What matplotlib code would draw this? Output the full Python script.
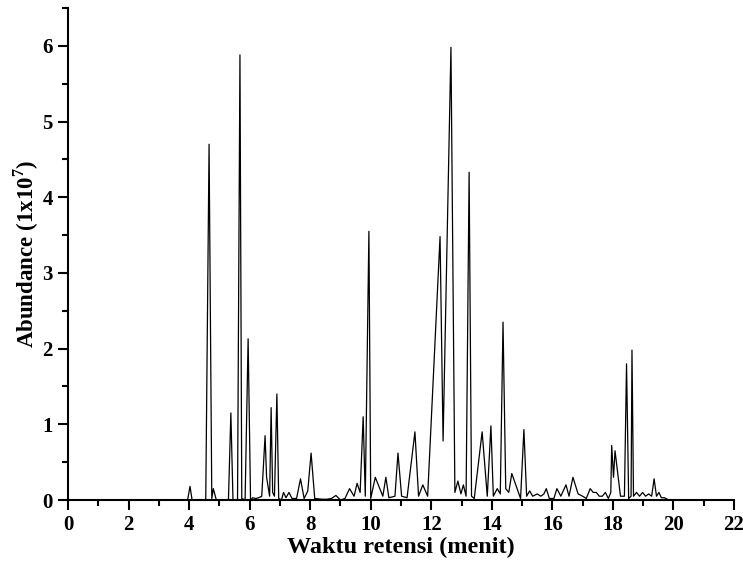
import matplotlib
matplotlib.use("Agg")
import matplotlib.pyplot as plt
from matplotlib.ticker import MultipleLocator

# Retention time (min) and abundance (x1e7) of the chromatogram trace
time_min = [
    0.0, 3.95, 4.03, 4.1, 4.55, 4.66, 4.75, 4.8, 4.9, 5.3, 5.38, 5.45, 5.6,
    5.68, 5.74, 5.85, 5.95, 6.03, 6.1, 6.2, 6.3, 6.4, 6.51, 6.56, 6.62, 6.66,
    6.71, 6.76, 6.82, 6.9, 6.96, 7.05, 7.12, 7.2, 7.3, 7.4, 7.55, 7.68, 7.8,
    7.92, 8.03, 8.15, 8.4, 8.55, 8.7, 8.85, 9.0, 9.15, 9.3, 9.45, 9.55, 9.65,
    9.75, 9.82, 9.94, 10.0, 10.15, 10.3, 10.4, 10.5, 10.6, 10.8, 10.9, 11.02,
    11.2, 11.46, 11.58, 11.72, 11.88, 12.29, 12.39, 12.65, 12.78, 12.88,
    12.98, 13.06, 13.15, 13.25, 13.33, 13.42, 13.68, 13.85, 13.97, 14.05,
    14.18, 14.28, 14.37, 14.46, 14.56, 14.66, 14.95, 15.06, 15.15, 15.25,
    15.35, 15.5, 15.62, 15.72, 15.8, 15.9, 16.05, 16.15, 16.28, 16.45, 16.55,
    16.68, 16.85, 17.0, 17.12, 17.25, 17.35, 17.45, 17.55, 17.65, 17.75,
    17.85, 17.93, 17.96, 18.02, 18.07, 18.25, 18.38, 18.45, 18.52, 18.6,
    18.63, 18.68, 18.78, 18.88, 18.98, 19.08, 19.18, 19.28, 19.36, 19.44,
    19.52, 19.6, 19.7, 19.85,
]
abundance = [
    0.0, 0.0, 0.18, 0.0, 0.0, 4.7, 0.02, 0.15, 0.0, 0.0, 1.15, 0.0, 0.0,
    5.88, 0.02, 0.0, 2.13, 0.0, 0.03, 0.02, 0.03, 0.05, 0.85, 0.3, 0.15, 0.05,
    1.22, 0.1, 0.05, 1.4, 0.02, 0.0, 0.1, 0.03, 0.1, 0.02, 0.02, 0.28, 0.02,
    0.12, 0.62, 0.02, 0.01, 0.01, 0.02, 0.06, 0.0, 0.02, 0.15, 0.05, 0.22,
    0.1, 1.1, 0.05, 3.55, 0.02, 0.3, 0.15, 0.05, 0.3, 0.03, 0.05, 0.62, 0.05,
    0.03, 0.9, 0.05, 0.2, 0.05, 3.48, 0.78, 5.98, 0.1, 0.25, 0.08, 0.2, 0.05,
    4.33, 0.05, 0.02, 0.9, 0.05, 0.98, 0.05, 0.15, 0.08, 2.35, 0.15, 0.1,
    0.35, 0.02, 0.93, 0.05, 0.12, 0.05, 0.08, 0.05, 0.08, 0.15, 0.02, 0.02,
    0.15, 0.05, 0.2, 0.05, 0.3, 0.08, 0.05, 0.02, 0.15, 0.1, 0.1, 0.05, 0.05,
    0.1, 0.02, 0.1, 0.72, 0.3, 0.65, 0.05, 0.05, 1.8, 0.02, 0.05, 1.98,
    0.05, 0.1, 0.05, 0.1, 0.05, 0.08, 0.05, 0.28, 0.05, 0.1, 0.03, 0.03, 0.0,
]

plt.rcParams["font.family"] = "Liberation Serif"
plt.rcParams["font.weight"] = "bold"
plt.rcParams["mathtext.fontset"] = "custom"
plt.rcParams["mathtext.bf"] = "Liberation Serif:bold"

fig = plt.figure(figsize=(7.43, 5.62), dpi=100)
ax = fig.add_axes([68 / 743, 62 / 562, 666 / 743, 492 / 562])

ax.plot(time_min, abundance, color="black", linewidth=0.9)

ax.set_xlim(0, 22)
ax.set_ylim(0, 6.5)
ax.xaxis.set_major_locator(MultipleLocator(2))
ax.xaxis.set_minor_locator(MultipleLocator(1))
ax.yaxis.set_major_locator(MultipleLocator(1))
ax.yaxis.set_minor_locator(MultipleLocator(0.5))

ax.spines[["top", "right"]].set_visible(False)
for s in ("left", "bottom"):
    ax.spines[s].set_linewidth(1.5)
ax.tick_params(which="major", direction="out", length=7, width=1.5, labelsize=15, pad=4)
ax.tick_params(which="minor", direction="out", length=4, width=1.5)
for lbl in ax.get_xticklabels() + ax.get_yticklabels():
    lbl.set_fontweight("bold")

ax.set_xlabel("Waktu retensi (menit)", fontsize=17.5, fontweight="bold", labelpad=1)
ax.set_ylabel(r"Abundance (1x10$^\mathbf{7}$)", fontsize=16.5, fontweight="bold", labelpad=1)

fig.savefig("out.png", dpi=100, facecolor="white")
